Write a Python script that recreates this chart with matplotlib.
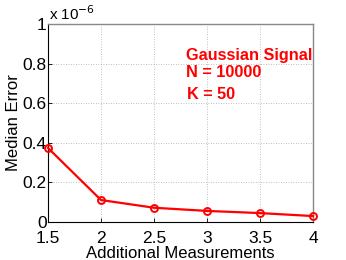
import matplotlib
matplotlib.use("Agg")
import matplotlib.pyplot as plt

x_vals = [1.5, 2, 2.5, 3, 3.5, 4]
median_error = [0.374e-6, 0.111e-6, 0.072e-6, 0.056e-6, 0.045e-6, 0.030e-6]
x_ticks = [1.5, 2, 2.5, 3, 3.5, 4]
x_tick_labels = ["1.5", "2", "2.5", "3", "3.5", "4"]
y_ticks = [0, 0.2e-6, 0.4e-6, 0.6e-6, 0.8e-6, 1.0e-6]
y_tick_labels = ["0", "0.2", "0.4", "0.6", "0.8", "1"]

plt.rcParams['font.family'] = ['Liberation Sans', 'DejaVu Sans']

fig = plt.figure(figsize=(3.46, 2.60), dpi=100)
ax = fig.add_axes([48/346, 1 - 222/260, (313-48)/346, (222-24)/260])

ax.plot(x_vals, median_error, color='red', lw=1.6, marker='o', ms=5,
        mfc='none', mec='red', mew=1.4, zorder=3, clip_on=False)

ax.set_xlim(1.5, 4)
ax.set_ylim(0, 1e-6)
ax.set_xticks(x_ticks)
ax.set_xticklabels(x_tick_labels, fontsize=12.5)
ax.set_yticks(y_ticks)
ax.set_yticklabels(y_tick_labels, fontsize=12.5)
ax.tick_params(direction='in', length=3, width=0.6, pad=1)
ax.tick_params(axis='x', pad=6.5)
ax.grid(True, linestyle=(0, (1, 2)), color='#aaaaaa', lw=0.6)
for s in ['left', 'bottom']:
    ax.spines[s].set_color('black')
    ax.spines[s].set_linewidth(0.8)
for s in ['top', 'right']:
    ax.spines[s].set_color('#888888')
    ax.spines[s].set_linewidth(1.0)

ax.set_xlabel("Additional Measurements", fontsize=12, labelpad=0)
ax.set_ylabel("Median Error", fontsize=12, labelpad=1)

fig.text(49/346, 1 - 14/260, r"x 10$^{-6}$", fontsize=11, va='center', ha='left')

ax.text(0.52, 0.843, "Gaussian Signal", transform=ax.transAxes, color='red',
        fontsize=11.7, fontweight='bold', va='center', ha='left')
ax.text(0.52, 0.753, "N = 10000", transform=ax.transAxes, color='red',
        fontsize=11.7, fontweight='bold', va='center', ha='left')
ax.text(0.525, 0.646, "K = 50", transform=ax.transAxes, color='red',
        fontsize=11.7, fontweight='bold', va='center', ha='left')

fig.savefig("out.png", dpi=100)
